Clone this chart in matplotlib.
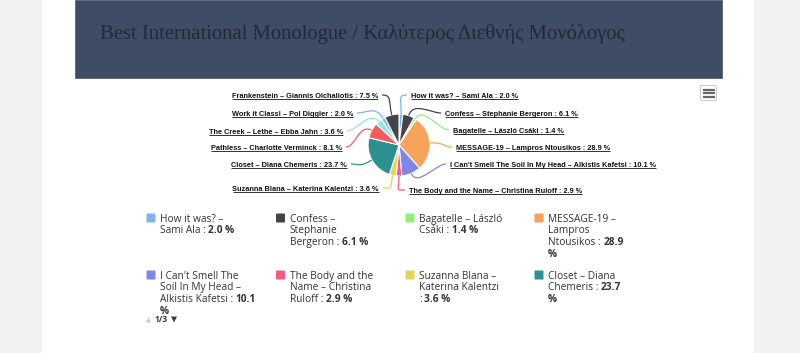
import matplotlib
matplotlib.use("Agg")
import matplotlib.pyplot as plt
from matplotlib.path import Path
from matplotlib.patches import PathPatch, Rectangle, FancyBboxPatch, Polygon
from matplotlib import font_manager
import numpy as np

# ---------------- data ----------------
title = "Best International Monologue / Καλύτερος Διεθνής Μονόλογος"
entries = ["How it was? – Sami Ala",
           "Confess – Stephanie Bergeron",
           "Bagatelle – László Csáki",
           "MESSAGE-19 – Lampros Ntousikos",
           "I Can't Smell The Soil In My Head – Alkistis Kafetsi",
           "The Body and the Name – Christina Ruloff",
           "Suzanna Blana – Katerina Kalentzi",
           "Closet – Diana Chemeris",
           "Pathless – Charlotte Verminck",
           "The Creek – Lethe – Ebba Jahn",
           "Work it Class! – Pol Diggler",
           "Frankenstein – Giannis Oichaliotis"]
shares = [2.0, 6.1, 1.4, 28.9, 10.1, 2.9, 3.6, 23.7, 8.1, 3.6, 2.0, 7.5]
colors = ["#7cb5ec", "#434348", "#90ed7d", "#f7a35c", "#8085e9", "#f15c80",
          "#e4d354", "#2b908f", "#f45b5b", "#91e8e1", "#7cb5ec", "#434348"]
legend_page = "1/3"

# ---------------- layout ----------------
W, H = 800, 353
label_x = [411, 445, 453, 456, 450, 409, 379, 347, 342, 343, 353, 378]
label_y = [95, 113, 130, 147, 164, 190, 188, 164, 147, 131, 113, 95]
label_right = [True] * 6 + [False] * 6
legend_breaks = [[4, 5], [2, 1, 4], [3, 4], [2, 1, 3, 1],
                 [4, 5, 4, 1], [4, 3, 4], [3, 2, 3], [3, 3, 1]]
col_x = [146, 275.5, 405, 534]
row_y = [218, 275]
line_h = 11.7

installed = {f.name for f in font_manager.fontManager.ttflist}
lab_family = "Liberation Sans Narrow" if "Liberation Sans Narrow" in installed else "Liberation Sans"
lab_size = 6.1 if lab_family == "Liberation Sans Narrow" else 5.3

fig = plt.figure(figsize=(W / 100, H / 100), dpi=100)
fig.patch.set_facecolor("#f2f2f2")
ax = fig.add_axes([0, 0, 1, 1])
ax.set_axis_off()

# page and header
ax.add_patch(Rectangle((42, 0), 712, H, facecolor="white", edgecolor="none", zorder=0))
ax.add_patch(Rectangle((75, 0), 647, 78, facecolor="#3e4c66", edgecolor="#5a6478",
                       linewidth=0.6, zorder=1))
ax.text(100, 34, title, fontsize=14.85, family="Liberation Serif", color="#232834",
        va="center", ha="left", zorder=2)

# pie
wedges, _ = ax.pie(shares, colors=colors, startangle=-90, counterclock=True,
                   center=(399, 145), radius=31, frame=True,
                   wedgeprops=dict(edgecolor="white", linewidth=0.8))
ax.set_xlim(0, W)
ax.set_ylim(H, 0)
ax.set_aspect("auto")
ax.set_axis_off()

fig.canvas.draw()
renderer = fig.canvas.get_renderer()

def text_w(t):
    return t.get_window_extent(renderer).width

# data labels with connectors
for i, w in enumerate(wedges):
    th = np.deg2rad((w.theta1 + w.theta2) / 2)
    d = np.array([np.cos(th), np.sin(th)])
    c = np.array(w.center)
    p0 = c + w.r * d
    p1 = c + (w.r + 15) * d
    txt = f"{entries[i]} : {shares[i]:.1f} %"
    yb = label_y[i] + 2.8
    if label_right[i]:
        t = ax.text(label_x[i], yb, txt, fontsize=lab_size, family=lab_family,
                    fontweight="bold", color="#111111", ha="left", va="baseline", zorder=5)
        end = np.array([label_x[i] - 4, label_y[i]])
        p2 = end + np.array([-10, 0])
    else:
        t = ax.text(label_x[i], yb, txt, fontsize=lab_size, family=lab_family,
                    fontweight="bold", color="#111111", ha="right", va="baseline", zorder=5)
        end = np.array([label_x[i] + 4, label_y[i]])
        p2 = end + np.array([10, 0])
    wd = text_w(t)
    x0 = label_x[i] if label_right[i] else label_x[i] - wd
    ax.plot([x0, x0 + wd], [yb + 1.4, yb + 1.4], color="#111111", lw=0.6, zorder=5,
            solid_capstyle="butt")
    path = Path([p0, p1, p2, end], [Path.MOVETO, Path.CURVE4, Path.CURVE4, Path.CURVE4])
    ax.add_patch(PathPatch(path, facecolor="none", edgecolor=colors[i], lw=0.9, zorder=3))

# legend (first page)
leg_size = 7.3
leg_family = "Open Sans"
sp = ax.text(0, -50, "a a", fontsize=leg_size, family=leg_family)
sp2 = ax.text(0, -50, "aa", fontsize=leg_size, family=leg_family)
space_w = text_w(sp) - text_w(sp2)
sp.remove(); sp2.remove()

for k, brk in enumerate(legend_breaks):
    col = k % 4
    row = k // 4
    sx = col_x[col]
    y0 = row_y[row]
    ax.add_patch(FancyBboxPatch((sx + 0.5, y0 - 4.5), 9, 9, boxstyle="round,pad=0,rounding_size=1",
                                facecolor=colors[k], edgecolor="none", zorder=4))
    tokens = entries[k].split(" ") + [":", f"{shares[k]:.1f}", "%"]
    bolds = [False] * (len(tokens) - 2) + [True, True]
    pos = 0
    for li, n in enumerate(brk):
        toks = tokens[pos:pos + n]
        bl = bolds[pos:pos + n]
        pos += n
        runs = []
        for tk, b in zip(toks, bl):
            if runs and runs[-1][1] == b:
                runs[-1][0] += " " + tk
            else:
                runs.append([tk, b])
        x = sx + 14
        yb = y0 + li * line_h + 3.6
        for s, b in runs:
            t = ax.text(x, yb, s, fontsize=leg_size, family=leg_family,
                        fontweight="bold" if b else "normal", color="#333333",
                        ha="left", va="baseline", zorder=5)
            x += text_w(t) + space_w

# legend navigation
ax.add_patch(Polygon([[146, 322.5], [151, 322.5], [148.5, 317]], closed=True,
                     facecolor="#cccccc", edgecolor="none"))
ax.text(154.5, 320, legend_page, fontsize=6, family="Open Sans", fontweight="bold",
        color="#333333", ha="left", va="center")
ax.add_patch(Polygon([[171, 316.5], [177, 316.5], [174, 322.5]], closed=True,
                     facecolor="#2f3d56", edgecolor="none"))

# context menu button
ax.add_patch(FancyBboxPatch((700.5, 85.5), 16, 15, boxstyle="round,pad=0,rounding_size=1.5",
                            facecolor="white", edgecolor="#cccccc", lw=0.8, zorder=4))
for yy in [89.5, 93, 96.5]:
    ax.plot([703, 714.5], [yy, yy], color="#666666", lw=1.6, zorder=5, solid_capstyle="butt")

fig.savefig("out.png", dpi=100, facecolor=fig.get_facecolor())
